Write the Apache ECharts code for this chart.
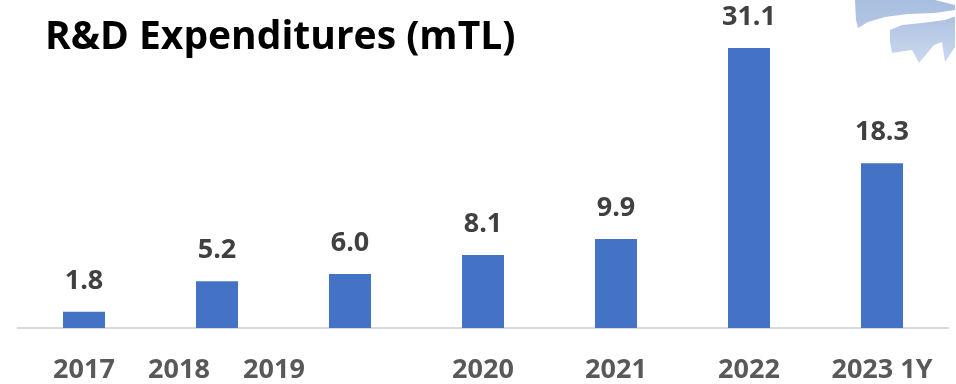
<!DOCTYPE html>
<html>
<head>
<meta charset="utf-8">
<script src="https://cdn.jsdelivr.net/npm/echarts@6/dist/echarts.min.js"></script>
<style>
  html, body { margin: 0; padding: 0; background: #ffffff; }
  #chart { width: 956px; height: 384px; }
</style>
</head>
<body>
<div id="chart"></div>
<script>
// Annual R&D spend, million TL
const categories = ['2017', '2018', '2019', '2020', '2021', '2022', '2023 1Y'];
const values = [1.8, 5.2, 6.0, 8.1, 9.9, 31.1, 18.3];

// Horizontal nudge (px, leftward) for a few year labels under the axis
const labelNudge = { '2018': 38, '2019': 76 };

const FONT = '"Open Sans", "Noto Sans", sans-serif';
const axisText = { fontFamily: FONT, fontWeight: 700, fontSize: 27, color: '#595959' };

const rich = {};
Object.keys(labelNudge).forEach(function (k) {
  rich['s' + k] = Object.assign({ padding: [0, labelNudge[k] * 2, 0, 0] }, axisText);
});

const chart = echarts.init(document.getElementById('chart'), null, { renderer: 'canvas' });

chart.setOption({
  animation: false,
  backgroundColor: '#ffffff',
  title: {
    text: 'R&D Expenditures (mTL)',
    left: 40,
    top: 13,
    textStyle: { fontFamily: FONT, fontWeight: 700, fontSize: 39, color: '#000000' }
  },
  grid: { left: 17.5, right: 7.5, top: 13, bottom: 56, containLabel: false },
  xAxis: {
    type: 'category',
    data: categories,
    axisTick: { show: false },
    axisLine: { show: true, lineStyle: { color: '#d9d9d9', width: 2 } },
    axisLabel: Object.assign({
      interval: 0,
      margin: 29,
      formatter: function (v) {
        return labelNudge[v] ? '{s' + v + '|' + v + '}' : v;
      },
      rich: rich
    }, axisText)
  },
  yAxis: {
    type: 'value',
    min: 0,
    max: 35,
    show: false,
    splitLine: { show: false }
  },
  series: [{
    type: 'bar',
    data: values,
    barWidth: 42,
    itemStyle: { color: '#4472c4' },
    label: {
      show: true,
      position: 'top',
      distance: 17,
      fontFamily: FONT,
      fontWeight: 700,
      fontSize: 27,
      color: '#404040',
      formatter: function (p) { return p.value.toFixed(1); }
    }
  }],
  graphic: [{
    // corner emblem: two light-blue swooshes
    type: 'group',
    left: 855,
    top: 0,
    children: [{
      type: 'polygon',
      shape: {
        points: [[1, 0], [81, 0], [101, 5], [101, 10], [81, 13], [54, 14], [31, 17], [14, 22], [4, 28], [2, 20]]
      },
      style: {
        fill: new echarts.graphic.LinearGradient(0, 0, 0, 1, [
          { offset: 0, color: '#a8bedf' }, { offset: 1, color: '#b4c7e3' }
        ])
      }
    }, {
      type: 'polygon',
      shape: {
        points: [[36, 30], [48, 25], [68, 23], [91, 20], [99, 17], [101, 17], [101, 47], [91, 62], [88, 42], [80, 45], [65, 63], [58, 50], [38, 53], [36, 42]]
      },
      style: {
        fill: new echarts.graphic.LinearGradient(0, 0, 0, 1, [
          { offset: 0, color: '#aec3e1' }, { offset: 1, color: '#cbd9ee' }
        ])
      }
    }]
  }]
});
</script>
</body>
</html>
